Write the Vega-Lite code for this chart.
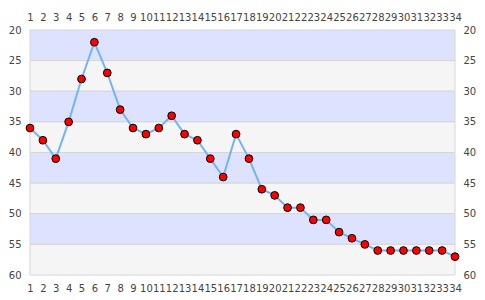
{
  "$schema": "https://vega.github.io/schema/vega-lite/v6.json",
  "autosize": {"type": "none"},
  "width": 425,
  "height": 245,
  "padding": {"left": 30, "top": 30, "right": 30, "bottom": 25},
  "background": "white",
  "config": {
    "view": {"stroke": null},
    "axis": {"labelFont": "DejaVu Sans", "labelFontSize": 10, "labelColor": "#444444", "domain": false, "ticks": false, "tickSize": 0, "grid": false, "title": null, "labelOverlap": false, "labelFlush": false, "labelBound": false}
  },
  "data": {"values": [
    {"pos": 1, "val": 36}, {"pos": 2, "val": 38}, {"pos": 3, "val": 41}, {"pos": 4, "val": 35},
    {"pos": 5, "val": 28}, {"pos": 6, "val": 22}, {"pos": 7, "val": 27}, {"pos": 8, "val": 33},
    {"pos": 9, "val": 36}, {"pos": 10, "val": 37}, {"pos": 11, "val": 36}, {"pos": 12, "val": 34},
    {"pos": 13, "val": 37}, {"pos": 14, "val": 38}, {"pos": 15, "val": 41}, {"pos": 16, "val": 44},
    {"pos": 17, "val": 37}, {"pos": 18, "val": 41}, {"pos": 19, "val": 46}, {"pos": 20, "val": 47},
    {"pos": 21, "val": 49}, {"pos": 22, "val": 49}, {"pos": 23, "val": 51}, {"pos": 24, "val": 51},
    {"pos": 25, "val": 53}, {"pos": 26, "val": 54}, {"pos": 27, "val": 55}, {"pos": 28, "val": 56},
    {"pos": 29, "val": 56}, {"pos": 30, "val": 56}, {"pos": 31, "val": 56}, {"pos": 32, "val": 56},
    {"pos": 33, "val": 56}, {"pos": 34, "val": 57}
  ]},
  "layer": [
    {
      "data": {"values": [
        {"lo": 20, "hi": 25, "band": "a"}, {"lo": 25, "hi": 30, "band": "b"},
        {"lo": 30, "hi": 35, "band": "a"}, {"lo": 35, "hi": 40, "band": "b"},
        {"lo": 40, "hi": 45, "band": "a"}, {"lo": 45, "hi": 50, "band": "b"},
        {"lo": 50, "hi": 55, "band": "a"}, {"lo": 55, "hi": 60, "band": "b"}
      ]},
      "mark": {"type": "rect", "stroke": "#d6d6d6", "strokeWidth": 1},
      "encoding": {
        "x": {"datum": 1, "type": "quantitative", "scale": {"domain": [1, 34], "nice": false, "zero": false}, "axis": null},
        "x2": {"datum": 34},
        "y": {"field": "lo", "type": "quantitative", "scale": {"domain": [20, 60], "reverse": true, "nice": false, "zero": false}, "axis": null},
        "y2": {"field": "hi"},
        "fill": {"field": "band", "type": "nominal", "scale": {"domain": ["a", "b"], "range": ["#dde3fe", "#f5f5f5"]}, "legend": null}
      }
    },
    {
      "mark": {"type": "line", "color": "#74b4f4", "strokeWidth": 2},
      "encoding": {
        "x": {"field": "pos", "type": "quantitative", "axis": {"orient": "bottom", "values": [1,2,3,4,5,6,7,8,9,10,11,12,13,14,15,16,17,18,19,20,21,22,23,24,25,26,27,28,29,30,31,32,33,34], "labelPadding": 8}},
        "y": {"field": "val", "type": "quantitative", "axis": {"orient": "left", "values": [20,25,30,35,40,45,50,55,60], "labelPadding": 9}}
      }
    },
    {
      "mark": {"type": "point", "filled": true, "fill": "#ff0000", "stroke": "#000000", "strokeWidth": 1, "size": 60, "opacity": 1},
      "encoding": {
        "x": {"field": "pos", "type": "quantitative", "axis": {"orient": "top", "values": [1,2,3,4,5,6,7,8,9,10,11,12,13,14,15,16,17,18,19,20,21,22,23,24,25,26,27,28,29,30,31,32,33,34], "labelPadding": 8}},
        "y": {"field": "val", "type": "quantitative", "axis": {"orient": "right", "values": [20,25,30,35,40,45,50,55,60], "labelPadding": 8}}
      }
    }
  ],
  "resolve": {"axis": {"x": "independent", "y": "independent"}}
}
